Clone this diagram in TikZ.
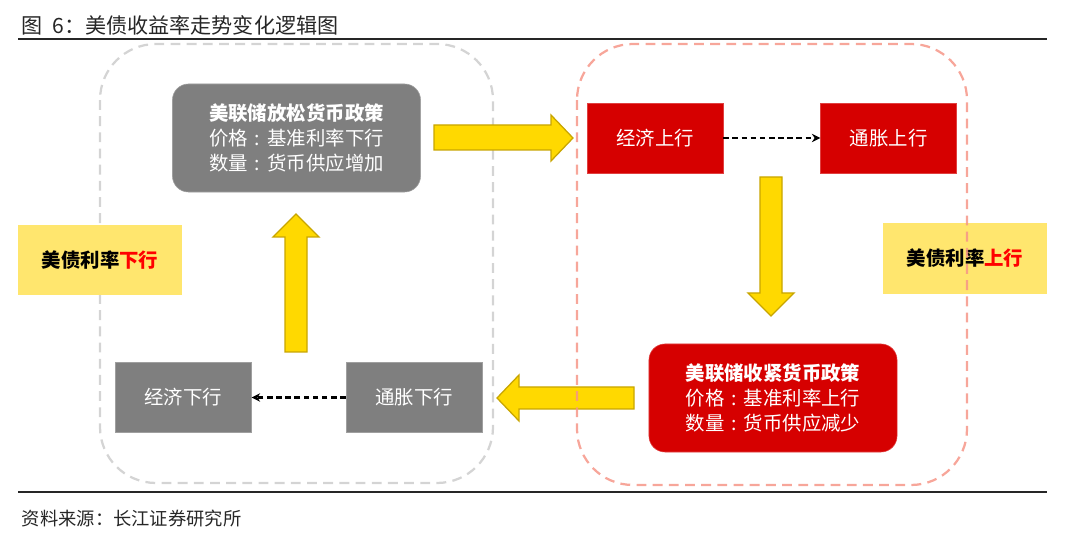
\documentclass[tikz,border=0pt]{standalone}
\usepackage{xcolor}
\usepackage{fontspec}
\setmainfont{Noto Sans CJK SC}
\usetikzlibrary{positioning,arrows.meta}

\begin{document}
\begin{tikzpicture}[x=0.025cm,y=-0.025cm,
  policy/.style={rounded corners=0.4cm, draw=#1!75!white, fill=#1, text=white, align=center,
    minimum width=6.2cm, minimum height=2.7cm, font=\fontsize{13.8}{18}\selectfont},
  phase/.style={draw=#1!75!white, fill=#1, text=white, minimum width=3.4cm, minimum height=1.75cm,
    font=\fontsize{13.8}{17}\selectfont},
  rate/.style={fill=labelyellow, minimum width=4.1cm, minimum height=1.75cm,
    font=\fontsize{13.8}{17}\selectfont\bfseries},
  flow/.style={dash pattern=on 4pt off 2.5pt, line width=1.5pt, -{Stealth[length=6pt,width=6pt]}},
  bigarrow/.style={fill=arrowyellow, draw=arrowedge, line width=0.9pt},
  frame/.style={dash pattern=on 7pt off 4.5pt, line width=1.6pt, rounded corners=1.4cm}]
  % Define colors
  \definecolor{fedred}{RGB}{214,0,0}
  \definecolor{fedgray}{RGB}{127,127,127}
  \definecolor{arrowyellow}{RGB}{255,217,0}
  \definecolor{arrowedge}{RGB}{200,165,0}
  \definecolor{labelyellow}{RGB}{255,230,110}
  \definecolor{framegray}{RGB}{212,212,212}
  \definecolor{framered}{RGB}{246,150,136}

  \useasboundingbox (0,0) rectangle (1080,543);

  % Title and rules
  \node[anchor=west, text=black!85, font=\fontsize{15}{17}\selectfont] (title) at (17,25) {图\ \ 6：美债收益率走势变化逻辑图};
  \node[anchor=west, text=black!85, font=\fontsize{13}{15}\selectfont] (source) at (17,519) {资料来源：长江证券研究所};
  \draw[line width=1.1pt, black!85] (18,39) -- (1047,39);
  \draw[line width=1.1pt, black!85] (18,492) -- (1047,492);

  % Left frame
  \draw[frame, framegray] (100,44) rectangle (493,483);

  % Boxes
  \node[policy=fedgray] (loosen) at (296.5,138) {\textbf{美联储放松货币政策}\\价格\makebox[1em]{:}基准利率下行\\数量\makebox[1em]{:}货币供应增加};
  \node[phase=fedred] (econUp) at (655,138) {经济上行};
  \node[phase=fedred, right=2.425cm of econUp] (inflUp) {通胀上行};
  \node[policy=fedred] (tighten) at (773,398) {\textbf{美联储收紧货币政策}\\价格\makebox[1em]{:}基准利率上行\\数量\makebox[1em]{:}货币供应减少};
  \node[phase=fedgray] (inflDown) at (414,397.5) {通胀下行};
  \node[phase=fedgray, left=2.35cm of inflDown] (econDown) {经济下行};

  % Rate labels
  \node[rate] (rateDown) at (100,260) {美债利率\textcolor{red}{下行}};
  \node[rate] (rateUp) at (965,258.5) {美债利率\textcolor{red}{上行}};

  % Dashed links
  \draw[flow] (econUp) -- (inflUp);
  \draw[flow] (inflDown) -- (econDown);

  % Big yellow arrows
  \draw[bigarrow] (434,125) -- (551,125) -- (551,115) -- (573,138) -- (551,161) -- (551,150) -- (434,150) -- cycle;
  \draw[bigarrow] (760,177) -- (782,177) -- (782,293) -- (794,293) -- (771,316) -- (748,293) -- (760,293) -- cycle;
  \draw[bigarrow] (634,387) -- (519,387) -- (519,375) -- (497,398) -- (519,421) -- (519,409) -- (634,409) -- cycle;
  \draw[bigarrow] (285,352) -- (285,237) -- (273,237) -- (296,214) -- (319,237) -- (307,237) -- (307,352) -- cycle;

  % Right frame
  \draw[frame, framered, opacity=0.85] (577,44) rectangle (967,485);

\end{tikzpicture}
\end{document}
